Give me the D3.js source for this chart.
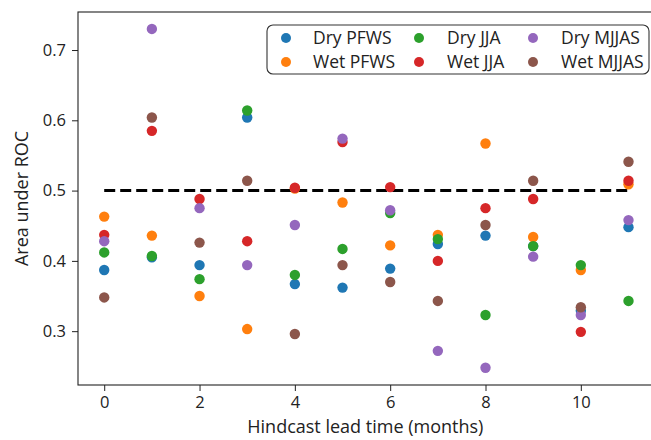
<!DOCTYPE html>
<html>
<head>
<meta charset="utf-8">
<script src="https://cdn.jsdelivr.net/npm/d3@7"></script>
<style>
  html, body { margin: 0; padding: 0; background: #fff; }
  svg { display: block; font-family: "Open Sans", "DejaVu Sans", sans-serif; }
</style>
</head>
<body>
<svg id="chart" width="651" height="440"></svg>
<script>
// Lead times (months)
const leadTimes = [0, 1, 2, 3, 4, 5, 6, 7, 8, 9, 10, 11];

// Area under ROC per season/condition
const dryPFWS  = [0.387, 0.405, 0.394, 0.604, 0.367, 0.362, 0.389, 0.424, 0.436, 0.421, 0.329, 0.448];
const wetPFWS  = [0.463, 0.436, 0.350, 0.303, 0.503, 0.483, 0.422, 0.437, 0.567, 0.434, 0.387, 0.509];
const dryJJA   = [0.412, 0.407, 0.374, 0.614, 0.380, 0.417, 0.468, 0.431, 0.323, 0.421, 0.394, 0.343];
const wetJJA   = [0.437, 0.585, 0.488, 0.428, 0.504, 0.569, 0.505, 0.400, 0.475, 0.488, 0.299, 0.514];
const dryMJJAS = [0.428, 0.730, 0.475, 0.394, 0.451, 0.574, 0.472, 0.272, 0.248, 0.406, 0.323, 0.458];
const wetMJJAS = [0.348, 0.604, 0.426, 0.514, 0.296, 0.394, 0.370, 0.343, 0.451, 0.514, 0.334, 0.541];

const seriesNames = ["Dry PFWS", "Wet PFWS", "Dry JJA", "Wet JJA", "Dry MJJAS", "Wet MJJAS"];
const seriesValues = [dryPFWS, wetPFWS, dryJJA, wetJJA, dryMJJAS, wetMJJAS];
const seriesColors = ["#1f77b4", "#ff7f0e", "#2ca02c", "#d62728", "#9467bd", "#8c564b"];

const xTicks = [0, 2, 4, 6, 8, 10];
const yTicks = [0.3, 0.4, 0.5, 0.6, 0.7];
const threshold = 0.5;

const plot = { left: 78, right: 654.7, top: 12, bottom: 385 };

const svg = d3.select("#chart");

const x = d3.scaleLinear().domain([-0.55, 11.55]).range([plot.left, plot.right]);
const y = d3.scaleLinear().domain([0.2234, 0.7541]).range([plot.bottom, plot.top]);

// Axes
const xAxis = svg.append("g")
  .attr("transform", `translate(0,${plot.bottom})`)
  .call(d3.axisBottom(x).tickValues(xTicks).tickFormat(d3.format("d")).tickSize(6).tickPadding(5));
const yAxis = svg.append("g")
  .attr("transform", `translate(${plot.left},0)`)
  .call(d3.axisLeft(y).tickValues(yTicks).tickFormat(d3.format(".1f")).tickSize(6).tickPadding(6));

[xAxis, yAxis].forEach(g => {
  g.select(".domain").remove();
  g.selectAll(".tick line").attr("stroke", "#222").attr("stroke-width", 1);
  g.selectAll(".tick text").attr("fill", "#222").style("font-size", "16.5px")
    .style("font-family", "'Open Sans', 'DejaVu Sans', sans-serif");
});

// Frame
svg.append("rect")
  .attr("x", plot.left).attr("y", plot.top)
  .attr("width", plot.right - plot.left).attr("height", plot.bottom - plot.top)
  .attr("fill", "none").attr("stroke", "#222").attr("stroke-width", 1.1);

// Axis titles
svg.append("text")
  .attr("x", (plot.left + plot.right) / 2 - 1).attr("y", 433)
  .attr("text-anchor", "middle").attr("fill", "#222")
  .style("font-size", "18px")
  .text("Hindcast lead time (months)");

svg.append("text")
  .attr("transform", `translate(28,${(plot.top + plot.bottom) / 2}) rotate(-90)`)
  .attr("text-anchor", "middle").attr("fill", "#222")
  .style("font-size", "18px")
  .text("Area under ROC");

// Threshold line
svg.append("line")
  .attr("x1", x(leadTimes[0])).attr("x2", x(leadTimes[leadTimes.length - 1]))
  .attr("y1", y(threshold)).attr("y2", y(threshold))
  .attr("stroke", "#000").attr("stroke-width", 3)
  .attr("stroke-dasharray", "11,5");

// Scatter points
seriesValues.forEach((vals, i) => {
  svg.append("g").selectAll("circle")
    .data(vals)
    .join("circle")
    .attr("cx", (d, j) => x(leadTimes[j]))
    .attr("cy", d => y(d))
    .attr("r", 5.2)
    .attr("fill", seriesColors[i]);
});

// Legend
const legend = svg.append("g");
legend.append("rect")
  .attr("x", 267).attr("y", 25).attr("width", 382).attr("height", 49)
  .attr("rx", 6).attr("ry", 6)
  .attr("fill", "#fff").attr("fill-opacity", 0.9)
  .attr("stroke", "#333").attr("stroke-width", 1.1);

const colMarkerX = [286, 419, 533];
const colTextX = [313, 447, 561];
const rowY = [38, 62];
seriesNames.forEach((name, i) => {
  const col = Math.floor(i / 2), row = i % 2;
  legend.append("circle")
    .attr("cx", colMarkerX[col]).attr("cy", rowY[row])
    .attr("r", 5).attr("fill", seriesColors[i]);
  legend.append("text")
    .attr("x", colTextX[col]).attr("y", rowY[row])
    .attr("dy", "0.36em").attr("fill", "#222")
    .style("font-size", "17.5px")
    .text(name);
});
</script>
</body>
</html>
